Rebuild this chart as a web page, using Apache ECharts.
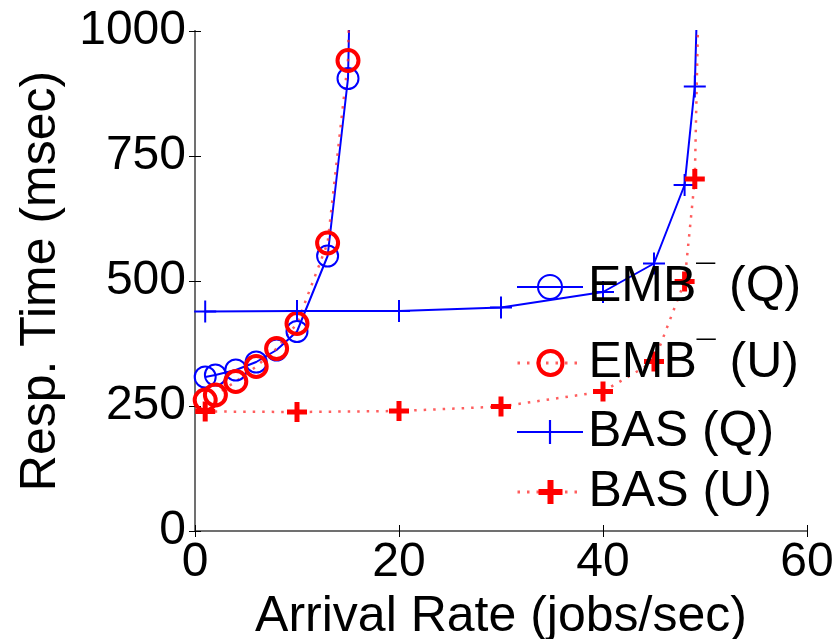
<!DOCTYPE html>
<html><head><meta charset="utf-8">
<script src="https://cdn.jsdelivr.net/npm/echarts@6/dist/echarts.min.js"></script>
<style>html,body{margin:0;padding:0;background:#fff}#c{width:838px;height:639px}</style>
</head><body><div id="c"></div>
<script>
// ---- data ----
var names = ['EMB\u00AF (Q)', 'EMB\u00AF (U)', 'BAS (Q)', 'BAS (U)'];
var embX = [1, 2, 4, 6, 8, 10, 13, 15, 16];
var embQ = [308, 312, 322, 338, 362, 399, 550, 905, 1850];
var embU = [262, 272, 299, 329, 365, 415, 576, 941, 1900];
var basX = [1, 10, 20, 30, 40, 45, 48, 49, 50];
var basQ = [439, 440, 440, 447, 478, 535, 692, 889, 1630];
var basU = [239, 238, 240, 249, 279, 339, 499, 704, 1690];
var xTicks = [0, 20, 40, 60];
var yTicks = [0, 250, 500, 750, 1000];

var FONT = "'Liberation Sans', Arial, sans-serif";
var BLUE = '#0000ff', RED = '#ff0000', REDLINE = 'rgba(255,40,40,0.75)';
var plusThin = 'path://M10,0H12V10H22V12H12V22H10V12H0V10H10Z';
var plusThick = 'path://M7.5,0H12.5V7.5H20V12.5H12.5V20H7.5V12.5H0V7.5H7.5Z';

function pts(xs, ys) {
  return xs.map(function (x, i) {
    var p = { value: [x, ys[i]] };
    if (ys[i] > 1000) p.symbol = 'none';
    return p;
  });
}

var chart = echarts.init(document.getElementById('c'), null, { renderer: 'canvas' });
var axisCommon = {
  splitLine: { show: false },
  axisTick: { show: true, inside: true, length: 6, lineStyle: { color: '#000', width: 1 } }
};
function legendText(name) {
  var i = name.indexOf('\u00AF');
  if (i < 0) return '{t|' + name + '}';
  return '{t|' + name.slice(0, i) + '}{m|\u00AF}{t|' + name.slice(i + 1) + '}';
}
function legendAt(name, top, bw, lw) {
  return {
    data: [name], left: 516, top: top, padding: 0, itemWidth: 66, itemHeight: 30, itemGap: 8,
    selectedMode: false,
    formatter: legendText,
    itemStyle: { borderWidth: bw },
    lineStyle: { width: lw },
    textStyle: {
      fontFamily: FONT, fontSize: 50, color: '#000',
      rich: {
        t: { fontFamily: FONT, fontSize: 50, color: '#000' },
        m: { fontFamily: FONT, fontSize: 34, color: '#000', verticalAlign: 'top' }
      }
    }
  };
}
chart.setOption({
  animation: false,
  backgroundColor: '#fff',
  grid: { left: 195, right: 31, top: 31, bottom: 108, containLabel: false, outerBoundsMode: 'none' },
  legend: [
    legendAt(names[0], 262, 2, 2),
    legendAt(names[1], 338, 4, 3),
    legendAt(names[2], 407, 0, 2),
    legendAt(names[3], 467, 0, 3)
  ],
  xAxis: [
    Object.assign({}, axisCommon, {
      type: 'value', min: 0, max: 60, interval: 20, position: 'bottom',
      name: 'Arrival Rate (jobs/sec)', nameLocation: 'middle', nameGap: 56,
      nameTextStyle: { fontFamily: FONT, fontSize: 50, color: '#000' },
      axisLine: { show: true, lineStyle: { color: '#000', width: 1.5 } },
      axisLabel: { fontFamily: FONT, fontSize: 48, color: '#000', margin: 8,
        formatter: function (v) { return String(v); } }
    }),
    Object.assign({}, axisCommon, {
      type: 'value', min: 0, max: 60, interval: 20, position: 'top',
      axisLine: { show: true, lineStyle: { color: '#707070', width: 2 } },
      axisLabel: { show: false }
    })
  ],
  yAxis: [
    Object.assign({}, axisCommon, {
      type: 'value', min: 0, max: 1000, interval: 250, position: 'left',
      name: 'Resp. Time (msec)', nameLocation: 'middle', nameGap: 129,
      nameTextStyle: { fontFamily: FONT, fontSize: 50, color: '#000' },
      axisLine: { show: true, lineStyle: { color: '#000', width: 1.5 } },
      axisLabel: { fontFamily: FONT, fontSize: 48, color: '#000', margin: 9,
        formatter: function (v) { return String(v); } }
    }),
    Object.assign({}, axisCommon, {
      type: 'value', min: 0, max: 1000, interval: 250, position: 'right',
      axisLine: { show: true, lineStyle: { color: '#707070', width: 2 } },
      axisLabel: { show: false }
    })
  ],
  series: [
    {
      name: names[0], type: 'line', data: pts(embX, embQ), clip: true,
      symbol: 'circle', symbolSize: 21,
      lineStyle: { color: BLUE, width: 2 },
      itemStyle: { color: 'rgba(0,0,0,0)', borderColor: BLUE, borderWidth: 2 }
    },
    {
      name: names[1], type: 'line', data: pts(embX, embU), clip: true,
      symbol: 'circle', symbolSize: 21,
      lineStyle: { color: REDLINE, width: 2.5, type: [2.5, 7] },
      itemStyle: { color: 'rgba(0,0,0,0)', borderColor: RED, borderWidth: 4 }
    },
    {
      name: names[2], type: 'line', data: pts(basX, basQ), clip: true,
      symbol: plusThin, symbolSize: 22,
      lineStyle: { color: BLUE, width: 2 },
      itemStyle: { color: BLUE }
    },
    {
      name: names[3], type: 'line', data: pts(basX, basU), clip: true,
      symbol: plusThick, symbolSize: 20,
      lineStyle: { color: REDLINE, width: 2.5, type: [2.5, 7] },
      itemStyle: { color: RED }
    }
  ]
});
</script></body></html>
